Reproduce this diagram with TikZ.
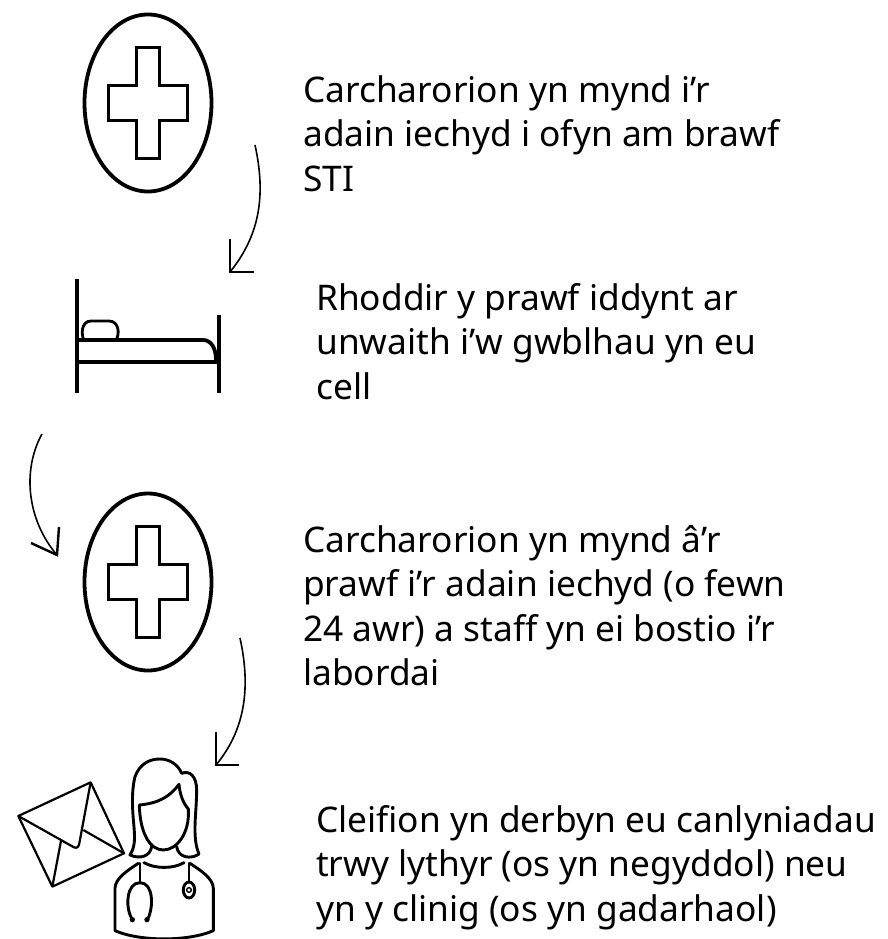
\documentclass[tikz,border=0pt]{standalone}
\usepackage{fontspec}
\setmainfont{Noto Sans}
\usetikzlibrary{shapes.geometric}
\tikzset{
 icon/.style={line width=3.8pt,line join=miter},
 thin icon/.style={line width=2.9pt,line join=round,line cap=round},
 curveline/.style={line width=1.6pt},
 headline/.style={line width=2.4pt,line join=miter},
 egg/.style={draw,ellipse,line width=3.8pt,minimum width=127pt,minimum height=177pt,inner sep=0pt},
 txt/.style={anchor=north west,align=left,inner sep=0pt,font=\fontsize{35.3pt}{44.5pt}\selectfont},
}
\begin{document}
\begin{tikzpicture}[x=1pt,y=-1pt]
\useasboundingbox (0,0) rectangle (888,939);
\newcommand{\crosspath}[1]{%
 \draw[icon,shift={(0,#1)}] (136.5,47.5) -- (159.5,47.5) -- (159.5,85.5) -- (187.5,85.5) -- (187.5,120.5) -- (159.5,120.5) -- (159.5,158.5) -- (136.5,158.5) -- (136.5,120.5) -- (108.5,120.5) -- (108.5,85.5) -- (136.5,85.5) -- cycle;}
% icons
\node[egg] (e1) at (148,103) {};
\crosspath{0}
\node[egg] (e2) at (148,582) {};
\crosspath{479}
% bed
\draw[icon] (77,279) -- (77,393);
\draw[icon] (219,315) -- (219,393);
\draw[icon] (77,362) -- (219,362);
\draw[icon] (77,340) -- (203,340) .. controls (211,340) and (216,348) .. (216,360);
\draw[line width=2.8pt] (84,340) .. controls (81,335) and (81,321) .. (91,321) -- (109,321) .. controls (119,321) and (120,334) .. (116,340);
% arrows
\coordinate (a1s) at (255,145); \coordinate (a1e) at (230,272);
\coordinate (a1h) at (230,239); \coordinate (a1k) at (254,272);
\draw[curveline] (a1s) .. controls (266,195) and (260,235) .. (a1e);
\draw[headline] (a1h) -- (a1e) -- (a1k);
\coordinate (a2s) at (42,434); \coordinate (a2e) at (57,555);
\coordinate (a2h) at (59,527); \coordinate (a2k) at (31,543);
\draw[curveline] (a2s) .. controls (22,470) and (27,520) .. (a2e);
\draw[headline] (a2h) -- (a2e) -- (a2k);
\coordinate (a3s) at (240,638); \coordinate (a3e) at (216,765);
\coordinate (a3h) at (216,732); \coordinate (a3k) at (239,765);
\draw[curveline] (a3s) .. controls (251,688) and (245,730) .. (a3e);
\draw[headline] (a3h) -- (a3e) -- (a3k);
% doctor and envelope (coordinates of a 3x grid)
\begin{scope}[shift={(0,740)},x=0.3333pt,y=-0.3333pt]
 \draw[line width=2.2pt,line join=round] (55,228) -- (272,127) -- (372,340) -- (157,440) -- cycle;
 \draw[line width=2.2pt,line join=round] (55,228) -- (222,322) .. controls (232,326) and (236,320) .. (238,310) -- (272,127);
 \draw[line width=2.2pt] (157,440) -- (183,303);
 \draw[line width=2.2pt] (250,270) -- (372,340);
 % hair
 \draw[thin icon] (455,320) .. controls (450,350) and (420,358) .. (390,345) .. controls (405,320) and (405,300) .. (402,260) .. controls (396,200) and (395,150) .. (405,110) .. controls (420,70) and (450,57) .. (480,57) .. controls (510,57) and (535,75) .. (545,100) .. controls (570,90) and (590,110) .. (590,150) .. controls (590,220) and (575,290) .. (597,342) .. controls (575,358) and (535,355) .. (530,320);
 % face
 \draw[thin icon] (418,195) .. controls (475,190) and (510,170) .. (537,133) .. controls (540,165) and (550,190) .. (565,207) .. controls (570,280) and (530,330) .. (490,330) .. controls (450,330) and (420,280) .. (418,195);
 % body
 \draw[thin icon] (415,370) .. controls (385,390) and (345,415) .. (345,445) -- (345,572) .. controls (420,605) and (565,605) .. (640,572) -- (640,445) .. controls (640,415) and (600,390) .. (570,370);
 \draw[thin icon] (432,368) .. controls (465,387) and (520,387) .. (552,368);
 % stethoscope
 \draw[thin icon] (420,370) -- (420,428);
 \draw[thin icon] (395,535) .. controls (375,500) and (380,428) .. (420,428) .. controls (460,428) and (462,500) .. (443,538);
 \fill (397,539) circle[radius=8]; \fill (441,539) circle[radius=8];
 \draw[thin icon] (567,370) -- (567,426);
 \draw[thin icon] (567,450) ellipse[x radius=17,y radius=24];
 \draw[line width=1.4pt] (567,450) circle[radius=7];
\end{scope}
% text
\node[txt] (t1) at (303,75) {Carcharorion yn mynd i’r\\adain iechyd i ofyn am brawf\\STI};
\node[txt] (t2) at (316,283) {Rhoddir y prawf iddynt ar\\unwaith i’w gwblhau yn eu\\cell};
\node[txt] (t3) at (303,525) {Carcharorion yn mynd â’r\\prawf i’r adain iechyd (o fewn\\24 awr) a staff yn ei bostio i’r\\labordai};
\node[txt] (t4) at (316,805) {Cleifion yn derbyn eu canlyniadau\\trwy lythyr (os yn negyddol) neu\\yn y clinig (os yn gadarhaol)};
\end{tikzpicture}
\end{document}
